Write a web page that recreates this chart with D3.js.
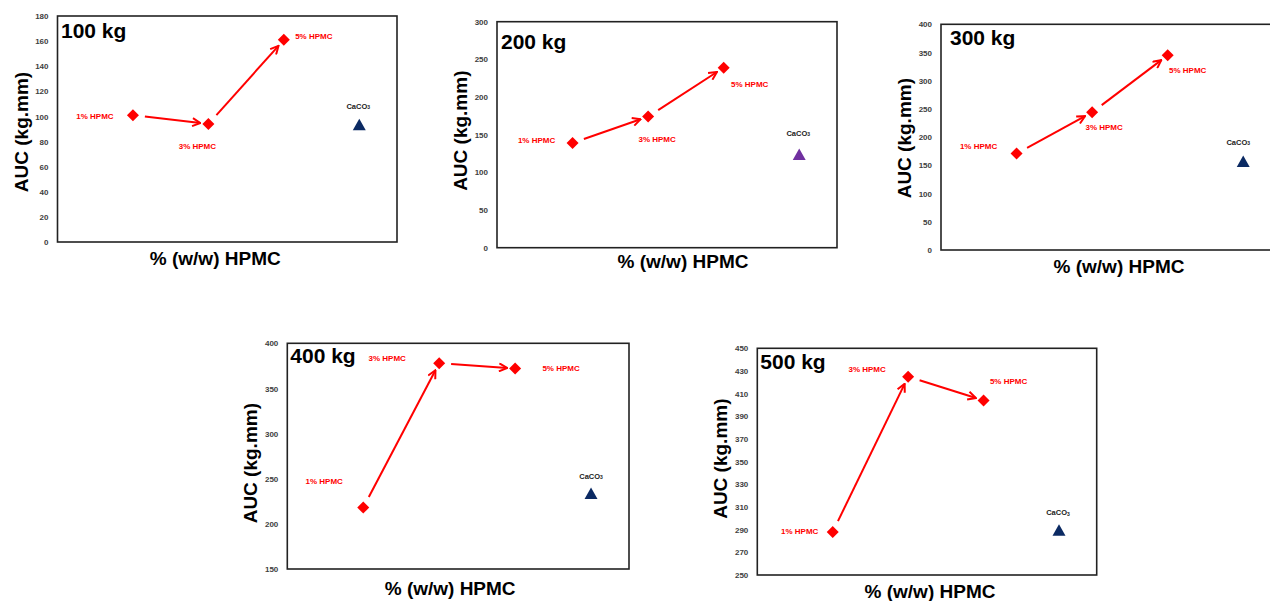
<!DOCTYPE html>
<html>
<head>
<meta charset="utf-8">
<script src="https://cdn.jsdelivr.net/npm/d3@7"></script>
<style>
  html, body { margin: 0; padding: 0; background: #fff; }
  svg { display: block; font-family: "Liberation Sans", Arial, sans-serif; }
</style>
</head>
<body>
<svg id="chart" width="1270" height="601"></svg>
<script>
// ---------- data ----------
const categories = ["1% HPMC", "3% HPMC", "5% HPMC"];
const loads = ["100 kg", "200 kg", "300 kg", "400 kg", "500 kg"];
const hpmc100 = [101, 94, 161];
const hpmc200 = [139, 174, 239];
const hpmc300 = [171, 244, 345];
const hpmc400 = [218, 378, 372];
const hpmc500 = [288, 425, 404];
const caco3 = [93, 123, 156, 233, 289];
const ticks100 = [0, 20, 40, 60, 80, 100, 120, 140, 160, 180];
const ticks200 = [0, 50, 100, 150, 200, 250, 300];
const ticks300 = [0, 50, 100, 150, 200, 250, 300, 350, 400];
const ticks400 = [150, 200, 250, 300, 350, 400];
const ticks500 = [250, 270, 290, 310, 330, 350, 370, 390, 410, 430, 450];
const seriesList = [hpmc100, hpmc200, hpmc300, hpmc400, hpmc500];
const tickList = [ticks100, ticks200, ticks300, ticks400, ticks500];
const xTitle = "% (w/w) HPMC";
const yTitle = "AUC (kg.mm)";

// ---------- layout (positions / styles only) ----------
const layout = [
  { left: 57.5, top: 16, w: 339.5, h: 226, tri: "#0b2a63",
    title: [3.5, 22], xt: [-12, 23], yt: 3,
    lab: [[-38, 1], [-11, 22], [30, -4]], cl: [-1, -19] },
  { left: 497, top: 21.7, w: 340, h: 226, tri: "#7030A0",
    title: [4, 27.5], xt: [16, 20.5], yt: -4,
    lab: [[-36, -3], [9, 23], [26, 17]], cl: [-1, -22] },
  { left: 941, top: 24.3, w: 340, h: 225.7, tri: "#0b2a63",
    title: [9, 21], xt: [8, 23], yt: 1,
    lab: [[-38, -7], [12, 15], [20, 15]], cl: [-5, -20] },
  { left: 287.3, top: 343.3, w: 341.7, h: 225.7, tri: "#0b2a63",
    title: [3, 20], xt: [-8, 26], yt: 7,
    lab: [[-39, -26], [-52, -5], [46, 0]], cl: [0, -18] },
  { left: 757.3, top: 348.3, w: 339.4, h: 226.7, tri: "#0b2a63",
    title: [3, 21], xt: [3, 23], yt: -3,
    lab: [[-33, -1], [-41, -7], [25, -19]], cl: [-1, -18] }
];

const svg = d3.select("#chart");
const defs = svg.append("defs");
defs.append("marker")
  .attr("id", "arrow")
  .attr("markerUnits", "userSpaceOnUse")
  .attr("viewBox", "0 0 10 10")
  .attr("refX", 9).attr("refY", 5)
  .attr("markerWidth", 10).attr("markerHeight", 10)
  .attr("orient", "auto")
  .append("path")
  .attr("d", "M1,1 L9,5 L1,9")
  .attr("fill", "none")
  .attr("stroke", "#ff0000")
  .attr("stroke-width", 2)
  .attr("stroke-linejoin", "miter");

const diamond = "M0,-6 L6,0 L0,6 L-6,0 Z";
const triangle = "M0,-6.5 L6.5,5 L-6.5,5 Z";

layout.forEach((L, i) => {
  const vals = seriesList[i];
  const ticks = tickList[i];
  const x = d3.scaleLinear().domain([0, 4.5]).range([L.left, L.left + L.w]);
  const y = d3.scaleLinear().domain([ticks[0], ticks[ticks.length - 1]])
    .range([L.top + L.h, L.top]);
  const g = svg.append("g");

  // frame
  g.append("rect")
    .attr("x", L.left).attr("y", L.top)
    .attr("width", L.w).attr("height", L.h)
    .attr("fill", "none").attr("stroke", "#222").attr("stroke-width", 1.6);

  // y axis
  const ax = g.append("g")
    .attr("transform", `translate(${L.left},0)`)
    .call(d3.axisLeft(y).tickValues(ticks).tickSize(0).tickPadding(9).tickFormat(d3.format("d")));
  ax.select(".domain").remove();
  ax.selectAll("text")
    .attr("font-family", "'Liberation Sans', Arial, sans-serif")
    .attr("font-size", 8).attr("font-weight", "bold").attr("fill", "#404040");

  // title
  g.append("text")
    .attr("x", L.left + L.title[0]).attr("y", L.top + L.title[1])
    .attr("font-size", 21).attr("font-weight", "bold").attr("fill", "#000")
    .text(loads[i]);

  // axis titles
  g.append("text")
    .attr("x", L.left + L.w / 2 + L.xt[0]).attr("y", L.top + L.h + L.xt[1])
    .attr("text-anchor", "middle")
    .attr("font-size", 19).attr("font-weight", "bold").attr("fill", "#000")
    .text(xTitle);
  const yc = L.top + L.h / 2 + L.yt;
  g.append("text")
    .attr("transform", `translate(${L.left - 30},${yc}) rotate(-90)`)
    .attr("text-anchor", "middle")
    .attr("font-size", 19).attr("font-weight", "bold").attr("fill", "#000")
    .text(yTitle);

  // arrows
  const pts = vals.map((v, k) => [x(k + 1), y(v)]);
  for (let k = 0; k < pts.length - 1; k++) {
    const [x0, y0] = pts[k], [x1, y1] = pts[k + 1];
    const dx = x1 - x0, dy = y1 - y0, len = Math.hypot(dx, dy);
    const ux = dx / len, uy = dy / len;
    g.append("line")
      .attr("x1", x0 + ux * 12).attr("y1", y0 + uy * 12)
      .attr("x2", x1 - ux * 8).attr("y2", y1 - uy * 8)
      .attr("stroke", "#ff0000").attr("stroke-width", 2)
      .attr("marker-end", "url(#arrow)");
  }

  // diamonds
  g.selectAll("path.pt").data(vals).join("path")
    .attr("class", "pt")
    .attr("d", diamond)
    .attr("transform", (d, k) => `translate(${x(k + 1)},${y(d)})`)
    .attr("fill", "#ff0000");

  // labels
  g.selectAll("text.lab").data(vals).join("text")
    .attr("class", "lab")
    .attr("x", (d, k) => x(k + 1) + L.lab[k][0])
    .attr("y", (d, k) => y(d) + L.lab[k][1])
    .attr("dy", "0.35em")
    .attr("text-anchor", "middle")
    .attr("font-size", 8).attr("font-weight", "bold").attr("fill", "#ff0000")
    .text((d, k) => categories[k]);

  // CaCO3 triangle
  const cx = x(4), cy = y(caco3[i]);
  g.append("path").attr("d", triangle)
    .attr("transform", `translate(${cx},${cy})`)
    .attr("fill", L.tri);
  const t = g.append("text")
    .attr("x", cx + L.cl[0]).attr("y", cy + L.cl[1])
    .attr("dy", "0.35em")
    .attr("text-anchor", "middle")
    .attr("font-size", 7.5).attr("font-weight", "bold").attr("fill", "#222");
  t.append("tspan").text("CaCO");
  t.append("tspan").attr("font-size", 5).attr("dy", "0.1em").text("3");
});
</script>
</body>
</html>
